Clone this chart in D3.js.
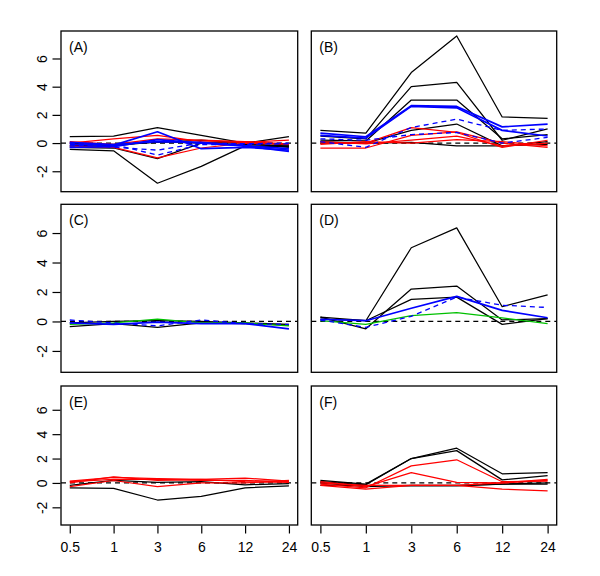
<!DOCTYPE html>
<html><head><meta charset="utf-8">
<script src="https://cdn.jsdelivr.net/npm/d3@7"></script>
<style>body{margin:0;background:#fff}svg{display:block}</style>
</head><body>
<script>
const timeLabels = ["0.5","1","3","6","12","24"];
const yTicks = [-2,0,2,4,6];
const panelLabels = ["(A)","(B)","(C)","(D)","(E)","(F)"];

// Panel A
const A_black = [[0.45,0.5,1.1,0.55,0.0,-0.3],[-0.45,-0.55,-2.85,-1.65,-0.2,-0.25],[-0.2,-0.1,0.05,0.2,0.0,0.45],[-0.3,-0.35,-1.1,0.0,-0.1,-0.2],[0.0,-0.2,0.1,0.0,0.1,-0.15]];
const A_red = [[0.0,0.3,0.55,0.1,0.05,0.2],[-0.2,-0.3,-1.05,-0.35,0.0,-0.1],[0.1,-0.1,0.3,0.2,0.1,-0.05]];
const A_green = [];
const A_blueDashed = [[-0.2,-0.1,-0.85,-0.1,-0.1,-0.05],[0.0,-0.3,-0.5,0.0,-0.05,0.0]];
const A_blue = [[-0.1,-0.15,0.8,-0.4,-0.3,-0.5],[-0.3,-0.25,0.25,0.0,-0.2,-0.6],[0.05,-0.1,0.1,0.05,-0.2,-0.4]];
// Panel B
const B_black = [[0.9,0.7,5.0,7.6,1.85,1.75],[0.5,0.3,4.0,4.3,0.2,1.0],[0.2,0.15,3.05,3.05,0.3,0.6],[0.1,0.0,0.9,1.35,-0.2,0.1],[0.0,0.0,0.05,-0.2,-0.2,-0.1]];
const B_red = [[0.0,0.0,1.1,0.75,-0.3,0.2],[-0.35,-0.35,0.55,0.8,0.0,-0.3],[0.1,-0.05,0.2,0.5,-0.2,0.0],[-0.1,0.1,0.0,0.25,0.1,-0.2]];
const B_green = [];
const B_blueDashed = [[0.1,-0.3,1.1,1.7,0.9,1.0],[0.3,0.2,0.6,0.75,0.0,0.4]];
const B_blue = [[0.7,0.45,2.65,2.6,1.15,1.35],[0.55,0.35,2.6,2.5,0.9,0.5]];
// Panel C
const C_black = [[-0.35,-0.15,-0.4,-0.1,-0.15,-0.25],[-0.1,0.0,0.05,0.0,-0.1,-0.2]];
const C_red = [];
const C_green = [[-0.2,-0.1,0.15,-0.1,-0.1,-0.3]];
const C_blueDashed = [[0.1,-0.1,-0.3,0.1,-0.15,-0.2]];
const C_blue = [[-0.1,-0.2,-0.05,-0.15,-0.15,-0.5]];
// Panel D
const D_black = [[0.3,0.05,5.0,6.35,1.0,1.8],[0.3,-0.5,2.2,2.4,0.1,0.2],[0.15,0.05,1.5,1.65,-0.2,0.2]];
const D_red = [];
const D_green = [[0.05,-0.2,0.4,0.6,0.25,-0.15]];
const D_blueDashed = [[0.1,-0.4,0.35,1.65,1.1,0.95]];
const D_blue = [[0.15,0.05,0.9,1.7,0.75,0.25]];
// Panel E
const E_black = [[-0.4,-0.45,-1.4,-1.1,-0.4,-0.25],[-0.2,0.2,0.05,0.1,-0.15,-0.05]];
const E_red = [[0.15,0.45,0.35,0.3,0.4,0.15],[0.1,0.3,0.3,0.2,0.2,0.1],[-0.3,0.2,-0.3,0.0,0.0,0.2],[0.0,0.5,0.2,0.3,0.1,0.05]];
const E_green = [];
const E_blueDashed = [];
const E_blue = [];
// Panel F
const F_black = [[0.2,-0.1,2.0,2.85,0.75,0.85],[0.1,-0.15,2.0,2.65,0.25,0.6],[-0.2,-0.2,-0.25,-0.25,-0.1,-0.1],[0.0,-0.3,-0.2,-0.2,-0.1,0.0]];
const F_red = [[-0.1,-0.4,1.4,1.9,0.1,0.15],[0.1,-0.3,0.85,0.05,0.0,0.3],[-0.2,-0.5,-0.2,-0.2,-0.5,-0.65],[0.0,-0.2,-0.2,-0.2,0.0,0.2]];
const F_green = [];
const F_blueDashed = [];
const F_blue = [];

const panelData = [
  {black:A_black, red:A_red, green:A_green, blueDashed:A_blueDashed, blue:A_blue},
  {black:B_black, red:B_red, green:B_green, blueDashed:B_blueDashed, blue:B_blue},
  {black:C_black, red:C_red, green:C_green, blueDashed:C_blueDashed, blue:C_blue},
  {black:D_black, red:D_red, green:D_green, blueDashed:D_blueDashed, blue:D_blue},
  {black:E_black, red:E_red, green:E_green, blueDashed:E_blueDashed, blue:E_blue},
  {black:F_black, red:F_red, green:F_green, blueDashed:F_blueDashed, blue:F_blue}
];

const styles = {
  black:{color:"#000", dash:null, width:1.25},
  red:{color:"#ff0000", dash:null, width:1.25},
  green:{color:"#00c000", dash:null, width:1.25},
  blueDashed:{color:"#0000ff", dash:"5,4", width:1.3},
  blue:{color:"#0000ff", dash:null, width:1.7}
};
const order = ["black","red","green","blueDashed","blue"];

const W = 600, H = 576;
const cols = [{x0:61, x1:297.7},{x0:311.3, x1:556.7}];
const rows = [{y0:31, y1:191.7},{y0:204.3, y1:372.3},{y0:386, y1:525}];
const yDomain = [-3.45, 7.95];
const font = "Liberation Sans, Arial, sans-serif";

const svg = d3.select("body").append("svg").attr("width",W).attr("height",H);

panelData.forEach((pd,i)=>{
  const c = cols[i%2], r = rows[Math.floor(i/2)];
  // R expands 4% each side of [1,6] -> 0.2 index units each side
  const xl = d3.scaleLinear().domain([0.8,6.2]).range([c.x0,c.x1]);
  const y = d3.scaleLinear().domain(yDomain).range([r.y1,r.y0]);
  const g = svg.append("g");
  const clipId = "clip"+i;
  g.append("clipPath").attr("id",clipId).append("rect")
    .attr("x",c.x0).attr("y",r.y0).attr("width",c.x1-c.x0).attr("height",r.y1-r.y0);
  const pg = g.append("g").attr("clip-path",`url(#${clipId})`);
  const line = d3.line().x((d,j)=>xl(j+1)).y(d=>y(d));
  pg.append("line").attr("x1",c.x0).attr("x2",c.x1).attr("y1",y(0)).attr("y2",y(0))
    .attr("stroke","#000").attr("stroke-width",1.2).attr("stroke-dasharray","5,4");
  order.forEach(k=>{
    const st = styles[k];
    pd[k].forEach(s=>{
      pg.append("path").attr("d",line(s)).attr("fill","none")
        .attr("stroke",st.color).attr("stroke-width",st.width)
        .attr("stroke-linejoin","round")
        .attr("stroke-dasharray",st.dash);
    });
  });
  g.append("rect").attr("x",c.x0).attr("y",r.y0).attr("width",c.x1-c.x0).attr("height",r.y1-r.y0)
    .attr("fill","none").attr("stroke","#000").attr("stroke-width",1.3);
  g.append("text").attr("x",c.x0+8).attr("y",r.y0+21).text(panelLabels[i])
    .attr("font-family",font).attr("font-size",14);
  if(i%2===0){
    const ax = g.append("g").attr("transform",`translate(${c.x0-0.5},0)`)
      .call(d3.axisLeft(y).tickValues(yTicks).tickSize(8).tickPadding(0).tickFormat(d=>String(d)));
    ax.select(".domain").remove();
    ax.selectAll(".tick line").attr("stroke","#000").attr("stroke-width",1.2);
    ax.selectAll(".tick text").attr("font-family",font).attr("font-size",14).attr("fill","#000")
      .attr("text-anchor","middle").attr("dy",null).attr("x",null)
      .attr("transform","translate(-19,0) rotate(-90)").attr("dominant-baseline","central");
  }
  if(i>=4){
    const xa = g.append("g").attr("transform",`translate(0,${r.y1+0.5})`)
      .call(d3.axisBottom(xl).tickValues([1,2,3,4,5,6]).tickSize(8).tickPadding(9)
        .tickFormat(d=>timeLabels[d-1]));
    xa.select(".domain").remove();
    xa.selectAll(".tick line").attr("stroke","#000").attr("stroke-width",1.2);
    xa.selectAll(".tick text").attr("font-family",font).attr("font-size",14).attr("fill","#000");
  }
});
</script>
</body></html>
